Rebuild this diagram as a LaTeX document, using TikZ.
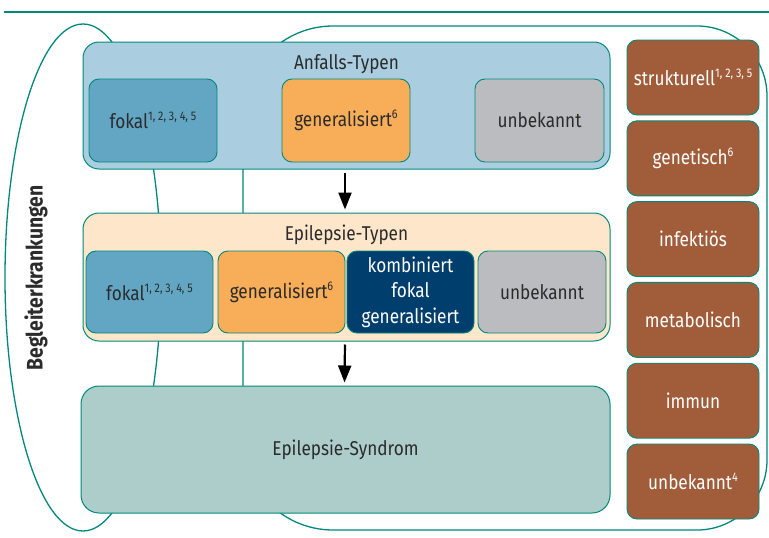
\documentclass[tikz,border=0pt]{standalone}
\usepackage{fontspec}
\setmainfont{Fira Sans}[FakeStretch=0.86]
\usetikzlibrary{arrows.meta}
\definecolor{tealc}{HTML}{00897B}
\definecolor{anffill}{HTML}{ABCDE0}
\definecolor{fokalc}{HTML}{62A6C4}
\definecolor{orangec}{HTML}{F8AE59}
\definecolor{grayc}{HTML}{BBBCBF}
\definecolor{beigec}{HTML}{FDE6CA}
\definecolor{darkbluec}{HTML}{003E6D}
\definecolor{synfill}{HTML}{ADCDCB}
\definecolor{brownc}{HTML}{A15D3A}
\definecolor{txtc}{HTML}{2B2B2B}
\newcommand\supx[1]{\raisebox{0.4em}{\fontsize{12.5}{12}\selectfont #1}}
\tikzset{
  outline/.style={draw=tealc, line width=1.3},
  container/.style={draw=tealc, line width=1, rounded corners=16, inner sep=0, minimum width=527, minimum height=127},
  subbox/.style={draw=tealc, line width=0.9, rounded corners=10, inner sep=0, minimum height=83, text=txtc,
     font=\fontsize{20}{25.5}\selectfont, align=center},
  brownbox/.style={draw=tealc, line width=0.9, fill=brownc, rounded corners=10, inner sep=0,
     minimum width=132, minimum height=75, text=white, font=\fontsize{20}{24}\selectfont},
  title/.style={text=txtc, font=\fontsize{20}{22}\selectfont, inner sep=0},
  arr/.style={-{Triangle[length=17,width=13]}, line width=2.2, black, shorten <=3, shorten >=3},
}
\begin{document}
\begin{tikzpicture}[x=1pt,y=-1pt]
\useasboundingbox (0,0) rectangle (769,538);
% top rule
\draw[tealc, line width=2.5] (4,12) -- (769,12);
% left ellipse (Begleiterkrankungen)
\draw[outline] (83,277.5) ellipse [x radius=78, y radius=253.5];
% right rounded shape
\draw[outline] (243,116) arc[start angle=180, end angle=270, radius=90]
  -- (697,26) arc[start angle=270, end angle=360, radius=70]
  -- (767,460) arc[start angle=0, end angle=90, radius=70]
  -- (333,530) arc[start angle=90, end angle=180, radius=90] -- cycle;
\node[rotate=90, text=txtc, font=\bfseries\fontsize{22.5}{23}\selectfont] (begl) at (36,278) {Begleiterkrankungen};

% Anfalls-Typen
\node[container, fill=anffill] (anf) at (346.5,105.5) {};
\node[title] (anft) at (346.5,64) {Anfalls-Typen};
\node[subbox, fill=fokalc, minimum width=128] (af) at (153,120.5) {fokal\supx{1, 2, 3, 4, 5}};
\node[subbox, fill=orangec, minimum width=128] (ag) at (346,120.5) {generalisiert\supx{6}};
\node[subbox, fill=grayc, minimum width=129] (au) at (539.5,120.5) {unbekannt};

% Epilepsie-Typen
\node[container, fill=beigec, minimum height=128] (ept) at (346.5,277) {};
\node[title] (eptt) at (346.5,235) {Epilepsie-Typen};
\node[subbox, fill=fokalc, minimum width=127, minimum height=82] (ef) at (149.5,292) {fokal\supx{1, 2, 3, 4, 5}};
\node[subbox, fill=orangec, minimum width=127, minimum height=82] (eg) at (281.5,292) {generalisiert\supx{6}};
\node[subbox, fill=darkbluec, minimum width=127, minimum height=82, text=white] (ek) at (410.5,292) {kombiniert\\fokal\\generalisiert};
\node[subbox, fill=grayc, minimum width=128, minimum height=82] (eu) at (542,292) {unbekannt};

% Epilepsie-Syndrom
\node[container, fill=synfill, minimum width=529, rounded corners=18, text=txtc, font=\fontsize{20}{22}\selectfont] (syn) at (345.5,449.5) {Epilepsie-Syndrom};

% arrows
\draw[arr] ([xshift=-1.5]anf.south) -- ([xshift=-1.5]ept.north);
\draw[arr] ([xshift=-1.5]ept.south) -- ([xshift=-1]syn.north);

% Aetiologie
\node[brownbox] (b1) at (693,77.5) {strukturell\supx{1, 2, 3, 5}};
\node[brownbox] (b2) at (693,158.3) {genetisch\supx{6}};
\node[brownbox] (b3) at (693,239.1) {infektiös};
\node[brownbox] (b4) at (693,319.9) {metabolisch};
\node[brownbox] (b5) at (693,400.7) {immun};
\node[brownbox] (b6) at (693,481.5) {unbekannt\supx{4}};
\end{tikzpicture}
\end{document}
